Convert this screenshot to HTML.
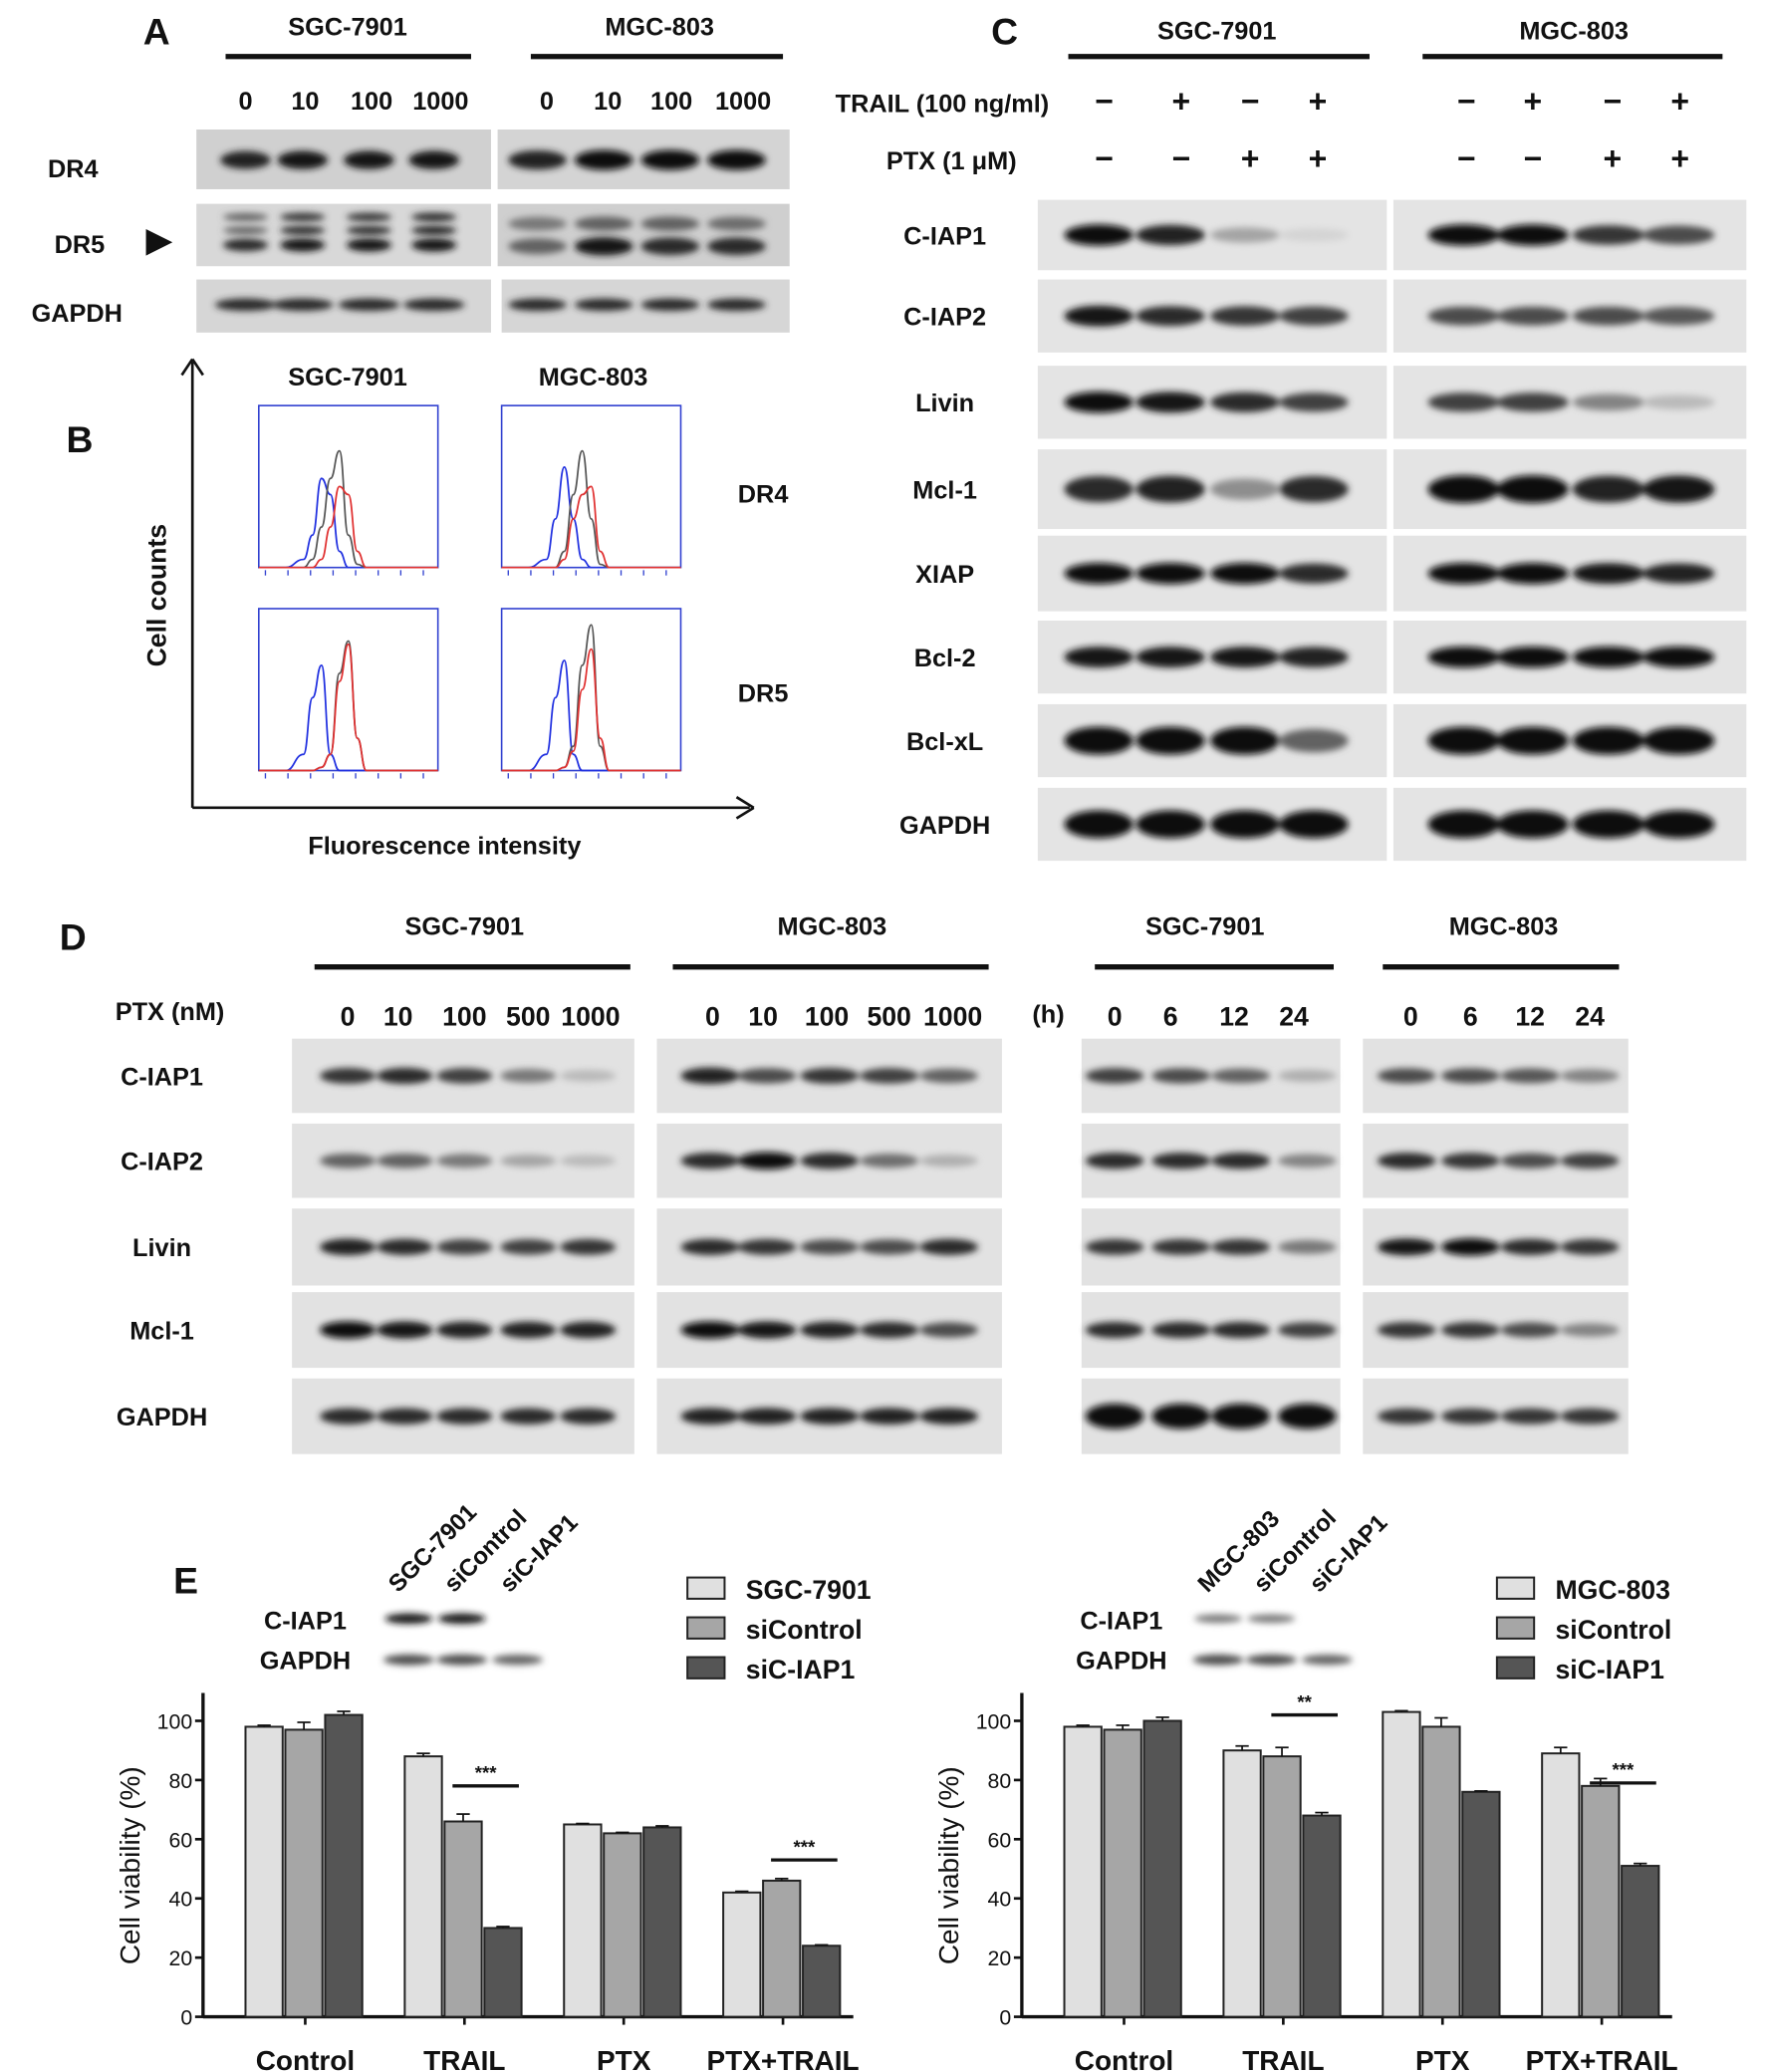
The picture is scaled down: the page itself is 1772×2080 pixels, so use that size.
<!DOCTYPE html>
<html><head><meta charset="utf-8">
<style>
html,body{margin:0;padding:0;background:#fff;}
svg{display:block;}
text{font-family:"Liberation Sans",sans-serif;font-weight:bold;fill:#111;}
</style></head>
<body>
<svg id="fig" width="1772" height="2080" viewBox="0 0 1330 1560" xmlns="http://www.w3.org/2000/svg">
<defs>
<filter id="blur" x="-30%" y="-100%" width="160%" height="300%"><feGaussianBlur stdDeviation="2.6"/></filter>
</defs>
<g id="root"></g>
</svg>
<script>
// ---------- Panel E data ----------
const groups = ["Control","TRAIL","PTX","PTX+TRAIL"];
const seriesLeft = ["SGC-7901","siControl","siC-IAP1"];
const seriesRight = ["MGC-803","siControl","siC-IAP1"];
const leftVals = [[98,97,102],[88,66,30],[65,62,64],[42,46,24]];
const leftErr = [[0.5,2.5,1.2],[1,2.5,0.5],[0.3,0.3,0.5],[0.4,0.7,0.3]];
const rightVals = [[98,97,100],[90,88,68],[103,98,76],[89,78,51]];
const rightErr = [[0.5,1.5,1.2],[1.5,3,1],[0.4,3,0.3],[2,2.5,0.8]];
const yTicks = [0,20,40,60,80,100];

const NS="http://www.w3.org/2000/svg";
const root=document.getElementById('root');
function el(tag,attrs,parent){const e=document.createElementNS(NS,tag);for(const k in attrs)e.setAttribute(k,attrs[k]);(parent||root).appendChild(e);return e;}
function txt(s,x,y,size,anchor,name,extra){const t=el('text',Object.assign({x:x,y:y,'font-size':size,'text-anchor':anchor||'middle'},extra||{}));t.textContent=s;


return t;}
function line(x1,y1,x2,y2,w,name,col){const l=el('line',{x1,y1,x2,y2,stroke:col||'#111','stroke-width':w||2});


return l;}

function blotBox(x,y,w,h,name,bg){const r=el('rect',{x,y,width:w,height:h,fill:bg||'#e2e2e2'});


return r;}
function bands(xs,cy,w,h,ints,name){const g=el('g',{filter:'url(#blur)'});


xs.forEach((x,i)=>{const v=ints[i];if(v<=0)return;const c=Math.round(230-220*v);el('ellipse',{cx:x,cy:cy,rx:w/2,ry:h/2*(0.6+0.4*v),fill:`rgb(${c},${c},${c})`},g);});}

// ---------- Panel A ----------
txt('A',118,33,28,'middle','panel-a-label');
txt('SGC-7901',262,26,19,'middle','a-sgc-header');line(170,42,355,42,4,'a-sgc-bar');
txt('MGC-803',497,26,19,'middle','a-mgc-header');line(400,42,590,42,4,'a-mgc-bar');
const aDose=["0","10","100","1000"];
const aXL=[185,230,280,332],aXR=[412,458,506,560];
aDose.forEach((d,i)=>{txt(d,aXL[i],82,19,'middle','a-dose-label');txt(d,aXR[i],82,19,'middle','a-dose-label');});
const lanesAL=[185,228,278,327],lanesAR=[405,455,505,555];
blotBox(148,97,222,45,'a-dr4-blot-left','#d0d0d0');blotBox(375,97,220,45,'a-dr4-blot-right','#d4d4d4');
bands(lanesAL,120,38,14,[0.9,0.95,0.95,0.95],'a-dr4-bands');bands(lanesAR,120,44,15,[0.9,1,1,1],'a-dr4-bands');
blotBox(148,153,222,47,'a-dr5-blot-left','#d8d8d8');blotBox(375,153,220,47,'a-dr5-blot-right','#cfcfcf');
bands(lanesAL,163,34,7,[0.6,0.8,0.8,0.85],'a-dr5-bands');bands(lanesAL,173,34,7,[0.6,0.85,0.85,0.9],'a-dr5-bands');bands(lanesAL,184,34,10,[0.85,0.95,0.95,0.95],'a-dr5-bands');
bands(lanesAR,168,44,13,[0.5,0.6,0.6,0.55],'a-dr5-bands');bands(lanesAR,185,44,14,[0.6,0.95,0.85,0.85],'a-dr5-bands');
blotBox(148,210,222,40,'a-gapdh-blot-left','#d6d6d6');blotBox(378,210,217,40,'a-gapdh-blot-right','#d6d6d6');
bands(lanesAL,229,46,10,[0.85,0.85,0.85,0.85],'a-gapdh-bands');bands(lanesAR,229,44,10,[0.85,0.85,0.85,0.85],'a-gapdh-bands');
txt('DR4',55,133,19,'middle','a-dr4-label');txt('DR5',60,190,19,'middle','a-dr5-label');txt('GAPDH',58,242,19,'middle','a-gapdh-label');
(function(){const p=el('polygon',{points:'110,172 110,192 130,182',fill:'#111'});})();

// ---------- Panel B ----------
txt('B',60,340,28,'middle','panel-b-label');
line(145,272,145,608,2,'b-y-axis');line(145,608,565,608,2,'b-x-axis');
line(137,282,145,270,2,'b-arrow');line(153,282,145,270,2,'b-arrow');
line(555,600,568,608,2,'b-arrow');line(555,616,568,608,2,'b-arrow');
txt('Cell counts',125,448,20,'middle','b-y-title',{transform:'rotate(-90 125 448)'});
txt('Fluorescence intensity',335,643,19,'middle','b-x-title');
txt('SGC-7901',262,290,19,'middle','b-sgc-header');txt('MGC-803',447,290,19,'middle','b-mgc-header');
txt('DR4',575,378,19,'middle','b-dr4-label');txt('DR5',575,528,19,'middle','b-dr5-label');
const histX=[0,0.15,0.25,0.3,0.35,0.4,0.45,0.5,0.55,0.6,0.65,0.75,1];
const hist=[
 {box:[195,305],blue:[0,0,0.05,0.2,0.55,0.45,0.1,0,0,0,0,0,0],gray:[0,0,0,0.05,0.25,0.55,0.72,0.2,0.02,0,0,0,0],red:[0,0,0,0,0.05,0.25,0.5,0.45,0.1,0,0,0,0]},
 {box:[378,305],blue:[0,0,0.05,0.3,0.62,0.3,0.05,0,0,0,0,0,0],gray:[0,0,0,0,0.1,0.45,0.72,0.3,0.02,0,0,0,0],red:[0,0,0,0,0.05,0.3,0.45,0.5,0.1,0,0,0,0]},
 {box:[195,458],blue:[0,0,0.1,0.45,0.65,0.1,0,0,0,0,0,0,0],gray:[0,0,0,0,0.02,0.1,0.6,0.8,0.2,0,0,0,0],red:[0,0,0,0,0.02,0.1,0.55,0.78,0.2,0,0,0,0]},
 {box:[378,458],blue:[0,0,0.1,0.45,0.68,0.1,0,0,0,0,0,0,0],gray:[0,0,0,0,0.02,0.15,0.65,0.9,0.15,0,0,0,0],red:[0,0,0,0,0.02,0.12,0.5,0.75,0.2,0,0,0,0]}];
hist.forEach((h,hi)=>{const [bx,by]=h.box,bw=135,bh=122;
 const r=el('rect',{x:bx,y:by,width:bw,height:bh,fill:'none',stroke:'#3040d0','stroke-width':1.2});
 
 
 [['blue','#2030e0'],['gray','#555'],['red','#e03030']].forEach(([k,c])=>{
  const pts=histX.map((f,i)=>[bx+f*bw,by+bh-h[k][i]*bh]);
  let d='M'+pts[0].join(',');for(let i=1;i<pts.length;i++){const p0=pts[i-1],p1=pts[i];const mx=(p0[0]+p1[0])/2;d+=` C${mx},${p0[1]} ${mx},${p1[1]} ${p1[0]},${p1[1]}`;}
  const p=el('path',{d,fill:'none',stroke:c,'stroke-width':1.3});
  
  });
 for(let i=0;i<8;i++){el('line',{x1:bx+5+i*17,y1:by+bh+2,x2:bx+5+i*17,y2:by+bh+6,stroke:'#3040d0','stroke-width':1});}
});

// ---------- Panel C ----------
txt('C',757,33,28,'middle','panel-c-label');
txt('SGC-7901',917,29,19,'middle','c-sgc-header');line(805,42,1032,42,4,'c-sgc-bar');
txt('MGC-803',1186,29,19,'middle','c-mgc-header');line(1072,42,1298,42,4,'c-mgc-bar');
txt('TRAIL  (100 ng/ml)',710,84,19,'middle','c-trail-label');txt('PTX (1 μM)',717,127,19,'middle','c-ptx-label');
const cX=[832,890,942,993,1105,1155,1215,1266];
const trailSign=['−','+','−','+','−','+','−','+'],ptxSign=['−','−','+','+','−','−','+','+'];
cX.forEach((x,i)=>{txt(trailSign[i],x,84,24,'middle','trail-sign');txt(ptxSign[i],x,127,24,'middle','ptx-sign');});
const cRows=[['C-IAP1',150,203,[1,0.9,0.3,0.08],[1,1,0.8,0.7]],['C-IAP2',210,265,[0.95,0.85,0.8,0.75],[0.7,0.7,0.7,0.65]],
['Livin',275,330,[1,0.95,0.85,0.75],[0.75,0.75,0.45,0.2]],['Mcl-1',338,398,[0.85,0.9,0.4,0.85],[1,1,0.9,0.95]],
['XIAP',403,460,[1,1,1,0.85],[1,1,0.95,0.9]],['Bcl-2',467,522,[0.95,0.95,0.95,0.9],[1,1,1,1]],
['Bcl-xL',530,585,[1,1,1,0.6],[1,1,1,1]],['GAPDH',593,648,[1,1,1,1],[1,1,1,1]]];
cRows.forEach(([lab,y0,y1,L,R])=>{const cy=(y0+y1)/2;
 blotBox(782,y0,263,y1-y0,'c-'+lab.toLowerCase()+'-blot-left','#e4e4e4');blotBox(1050,y0,266,y1-y0,'c-'+lab.toLowerCase()+'-blot-right','#e4e4e4');
 const big=(lab==='Mcl-1'||lab==='Bcl-xL'||lab==='GAPDH')?21:16;
 bands([828,882,938,990],cy,52,big,L,'c-'+lab.toLowerCase()+'-bands');bands([1103,1155,1212,1265],cy,54,big,R,'c-'+lab.toLowerCase()+'-bands');
 txt(lab,712,cy+7,19,'middle','c-'+lab.toLowerCase()+'-label');});

// ---------- Panel D ----------
txt('D',55,715,28,'middle','panel-d-label');
[['SGC-7901',350,237,475],['MGC-803',627,507,745],['SGC-7901',908,825,1005],['MGC-803',1133,1042,1220]].forEach(([s,x,a,b])=>{txt(s,x,704,19,'middle','d-header');line(a,728,b,728,4,'d-header-bar');});
txt('PTX (nM)',128,768,19,'middle','d-ptx-label');txt('(h)',790,770,19,'middle','d-hours-label');
const dDose=["0","10","100","500","1000"],dTime=["0","6","12","24"];
const dX1=[262,300,350,398,445],dX2=[537,575,623,670,718],dX3=[840,882,930,975],dX4=[1063,1108,1153,1198];
dDose.forEach((d,i)=>{txt(d,dX1[i],772,20,'middle','d-dose-label');txt(d,dX2[i],772,20,'middle','d-dose-label');});
dTime.forEach((d,i)=>{txt(d,dX3[i],772,20,'middle','d-time-label');txt(d,dX4[i],772,20,'middle','d-time-label');});
const dRows=[['C-IAP1',782,838,[0.8,0.85,0.75,0.5,0.2],[0.9,0.7,0.8,0.75,0.6],[0.75,0.7,0.6,0.25],[0.7,0.7,0.65,0.45]],
['C-IAP2',846,902,[0.6,0.6,0.5,0.3,0.2],[0.85,1,0.85,0.55,0.25],[0.85,0.85,0.85,0.45],[0.85,0.8,0.7,0.75]],
['Livin',910,968,[0.9,0.85,0.75,0.75,0.8],[0.85,0.8,0.7,0.7,0.85],[0.8,0.8,0.8,0.5],[0.95,1,0.85,0.8]],
['Mcl-1',973,1030,[1,0.95,0.9,0.9,0.9],[1,0.95,0.9,0.85,0.7],[0.85,0.85,0.85,0.75],[0.8,0.8,0.7,0.45]],
['GAPDH',1038,1095,[0.85,0.85,0.85,0.85,0.85],[0.9,0.9,0.9,0.9,0.9],[1,1,1,1],[0.8,0.8,0.8,0.8]]];
dRows.forEach(([lab,y0,y1,a,b,c,d])=>{const cy=(y0+y1)/2;const n=lab.toLowerCase();
 blotBox(220,y0,258,y1-y0,'d-'+n+'-blot-1','#e2e2e2');blotBox(495,y0,260,y1-y0,'d-'+n+'-blot-2','#e2e2e2');
 blotBox(815,y0,195,y1-y0,'d-'+n+'-blot-3','#e2e2e2');blotBox(1027,y0,200,y1-y0,'d-'+n+'-blot-4','#e2e2e2');
 const h=13;
 bands([262,305,350,398,443],cy,42,h,a,'d-'+n+'-bands');bands([535,578,625,670,715],cy,44,h,b,'d-'+n+'-bands');
 bands([840,890,935,985],cy,44,lab==='GAPDH'?19:h,c,'d-'+n+'-bands');bands([1060,1108,1153,1198],cy,44,h,d,'d-'+n+'-bands');
 txt(lab,122,cy+7,19,'middle','d-'+n+'-label');});

// ---------- Panel E ----------
txt('E',140,1200,28,'middle','panel-e-label');
function smallBlot(x0,names,labX,intC,name){
 names.forEach((s,i)=>{const x=x0+i*42;txt(s,x,1200,18,'start',name+'-lane-label',{transform:`rotate(-45 ${x} 1200)`});});
 txt('C-IAP1',labX,1227,19,'middle',name+'-ciap1-label');txt('GAPDH',labX,1257,19,'middle',name+'-gapdh-label');
 bands([x0+8,x0+48,x0+90],1219,36,8,intC,name+'-ciap1-bands');bands([x0+8,x0+48,x0+90],1250,38,9,[0.7,0.7,0.6],name+'-gapdh-bands');}
smallBlot(300,['SGC-7901','siControl','siC-IAP1'],230,[0.95,0.95,0],'e-left-blot');
smallBlot(910,['MGC-803','siControl','siC-IAP1'],845,[0.5,0.5,0],'e-right-blot');
const fills=['#e0e0e0','#a6a6a6','#555555'];
function legend(x,names,pre){names.forEach((s,i)=>{const y=1188+i*30;const r=el('rect',{x:x,y:y,width:28,height:16,fill:fills[i],stroke:'#222','stroke-width':1.5});
 
 
 txt(s,x+44,y+16,20,'start',pre+'-legend-entry');});}
legend(518,seriesLeft,'left');legend(1128,seriesRight,'right');

function chart(ax,vals,errs,pre,sig){
 const y0=1519,y100=1296; const Y=v=>y0-(y0-y100)*v/100;
 const groupX=g=>ax+32+g*120, barX=(g,s)=>groupX(g)+s*30;
 line(ax,1275,ax,y0+1,2.5,pre+'-y-axis');line(ax,y0,ax+490,y0,2.5,pre+'-x-axis');
 yTicks.forEach(t=>{line(ax-6,Y(t),ax,Y(t),2,pre+'-y-tick');txt(String(t),ax-8,Y(t)+6,16,'end',pre+'-y-tick-label',{style:'font-weight:normal'});});
 txt('Cell viability (%)',ax-48,1405,21,'middle',pre+'-y-title',{transform:`rotate(-90 ${ax-48} 1405)`,style:'font-weight:normal'});
 groups.forEach((g,gi)=>{
  line(groupX(gi)+45,y0,groupX(gi)+45,y0+6,2,pre+'-x-tick');
  txt(g,groupX(gi)+45,1559,21,'middle',pre+'-x-label');
  vals[gi].forEach((v,si)=>{const x=barX(gi,si);
   const r=el('rect',{x:x,y:Y(v),width:28,height:y0-Y(v),fill:fills[si],stroke:'#222','stroke-width':1.5});
   
   
   const e=errs[gi][si];line(x+14,Y(v),x+14,Y(v+e),1.3,pre+'-error-bar');line(x+9,Y(v+e),x+19,Y(v+e),1.3,pre+'-error-cap');});});
 sig.forEach(([gi,s1,s2,yv,lab])=>{line(barX(gi,s1)+6,Y(yv),barX(gi,s2)+26,Y(yv),2.5,pre+'-sig-line');txt(lab,(barX(gi,s1)+barX(gi,s2)+32)/2,Y(yv)-5,14,'middle',pre+'-sig-label');});
}
chart(153,leftVals,leftErr,'left',[[1,1,2,78,'***'],[3,1,2,53,'***']]);
chart(770,rightVals,rightErr,'right',[[1,1,2,102,'**'],[3,1,2,79,'***']]);
</script>
</body></html>
